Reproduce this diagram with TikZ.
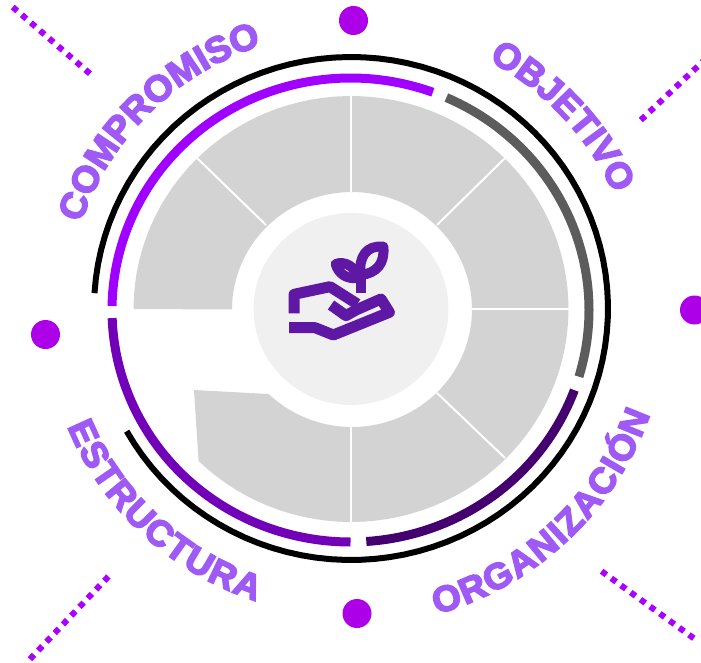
\documentclass[tikz,border=0pt]{standalone}
\usepackage{fontspec}
\usetikzlibrary{decorations.text}
\newfontfamily\lblfont[FakeStretch=1.02,FakeBold=4.5]{Liberation Sans Bold}
\definecolor{lblc}{HTML}{9F5AF5}
\definecolor{dotc}{HTML}{AD00E8}
\definecolor{dashc}{HTML}{AA00FF}
\definecolor{brightp}{HTML}{A000FF}
\definecolor{midp}{HTML}{7200B8}
\definecolor{darkp}{HTML}{45006F}
\definecolor{ringg}{HTML}{5C5C5C}
\definecolor{sect}{HTML}{D3D3D3}
\definecolor{corec}{HTML}{F0F0F0}
\definecolor{iconc}{HTML}{5F18A3}
\newcommand{\ringarc}[6]{plot[domain=#5:#6,samples=100,variable=\t] ({#1+#3*cos(\t)},{#2-#4*sin(\t)})}
\newcommand{\ringarcto}[6]{-- plot[domain=#5:#6,samples=100,variable=\t] ({#1+#3*cos(\t)},{#2-#4*sin(\t)})}
\tikzset{
  ringline/.style={line width=#1,line cap=butt},
  spoke/.style={draw=white,line width=2pt},
  reddot/.style={fill=dotc},
  dotline/.style={draw=dashc,line width=6pt,dash pattern=on 6pt off 6pt,shorten <=-3pt,shorten >=-3pt},
  icon/.style={draw=iconc,line width=11pt,line join=round,fill=none},
}
\newcommand{\curvetext}[8]{\path[decorate,decoration={text along path,text align={fit to path},
  text={|\lblfont\fontsize{#8}{#8}\selectfont\color{lblc}|#7}}] \ringarc{#1}{#2}{#3}{#4}{#5}{#6};}
\begin{document}
\begin{tikzpicture}[x=1pt,y=-1pt]
\useasboundingbox (0,0) rectangle (701,663);
\begin{scope}
\clip (0,0) rectangle (701,663);
% gray sectors
\fill[sect] \ringarc{351}{309}{217.5}{213}{180}{-134.5} -- (194,390) -- (268,394) \ringarcto{352}{309.5}{120}{117.5}{-134}{180} -- cycle;
% spokes
\coordinate (s1a) at (351,192); \coordinate (s1b) at (351,95);
\coordinate (s2a) at (437,225); \coordinate (s2b) at (505,158);
\coordinate (s3a) at (472,309); \coordinate (s3b) at (569,309);
\coordinate (s4a) at (437,393); \coordinate (s4b) at (505,458);
\coordinate (s5a) at (351,427); \coordinate (s5b) at (351,523);
\coordinate (s6a) at (266,225); \coordinate (s6b) at (197,158);
\foreach \k in {1,...,6} {\draw[spoke] (s\k a) -- (s\k b);}
% core
\fill[corec] (351,309) ellipse [x radius=97.5pt,y radius=96pt];
% rings
\draw[ringline=6pt,black] \ringarc{351}{308.5}{257}{251.5}{176.5}{-150.8};
\draw[ringline=9pt,brightp] \ringarc{350.5}{310}{238.5}{232}{179}{69.8};
\draw[ringline=9pt,ringg] \ringarc{350.5}{310}{238.5}{232}{66.3}{-16.7};
\draw[ringline=9pt,darkp] \ringarc{350.5}{310}{238.5}{232}{-20.2}{-86.2};
\draw[ringline=9pt,midp] \ringarc{350.5}{310}{238.5}{232}{-90}{-178};
% dots
\fill[reddot] (353.5,20.5) circle [radius=14.5pt];
\fill[reddot] (45.5,334.5) circle [radius=14.5pt];
\fill[reddot] (357,613.5) circle [radius=14.5pt];
\fill[reddot] (694.5,310) circle [radius=14.5pt];
% dotted lines
\coordinate (d1a) at (15,9); \coordinate (d1b) at (88,72);
\coordinate (d2a) at (643,118); \coordinate (d2b) at (704.5,60);
\coordinate (d3a) at (32,657); \coordinate (d3b) at (107,578);
\coordinate (d4a) at (604,573); \coordinate (d4b) at (692,637);
\foreach \k in {1,...,4} {\draw[dotline] (d\k a) -- (d\k b);}
% labels
\curvetext{351}{309}{284}{278}{162}{108.3}{COMPROMISO}{36.5}
\curvetext{351}{309}{288}{283}{61.5}{24}{OBJETIVO}{36}
\curvetext{351}{309}{317}{317}{-74.3}{-19.4}{ORGANIZACIÓN}{36}
\curvetext{351}{309}{307}{307}{202.5}{252}{ESTRUCTURA}{36}
% icon
\begin{scope}[shift={(270,230)},scale=1/3]
\draw[icon] (72,250) -- (72,193) -- (180,170) -- (262,222);
\draw[icon] (183,225) -- (228,257) -- (258,240) -- (333,207) -- (358,247) -- (190,315) -- (135,293) -- (57,293);
\draw[icon,line width=10pt] (272,190) -- (272,130);
\draw[icon,line width=10pt] (272,135) .. controls (265,80) and (290,45) .. (340,50) .. controls (345,100) and (320,130) .. (272,135) -- cycle;
\draw[icon,line width=10pt] (197,102) .. controls (225,92) and (255,110) .. (265,143) .. controls (230,150) and (205,130) .. (197,102) -- cycle;
\end{scope}
\end{scope}
\end{tikzpicture}
\end{document}
